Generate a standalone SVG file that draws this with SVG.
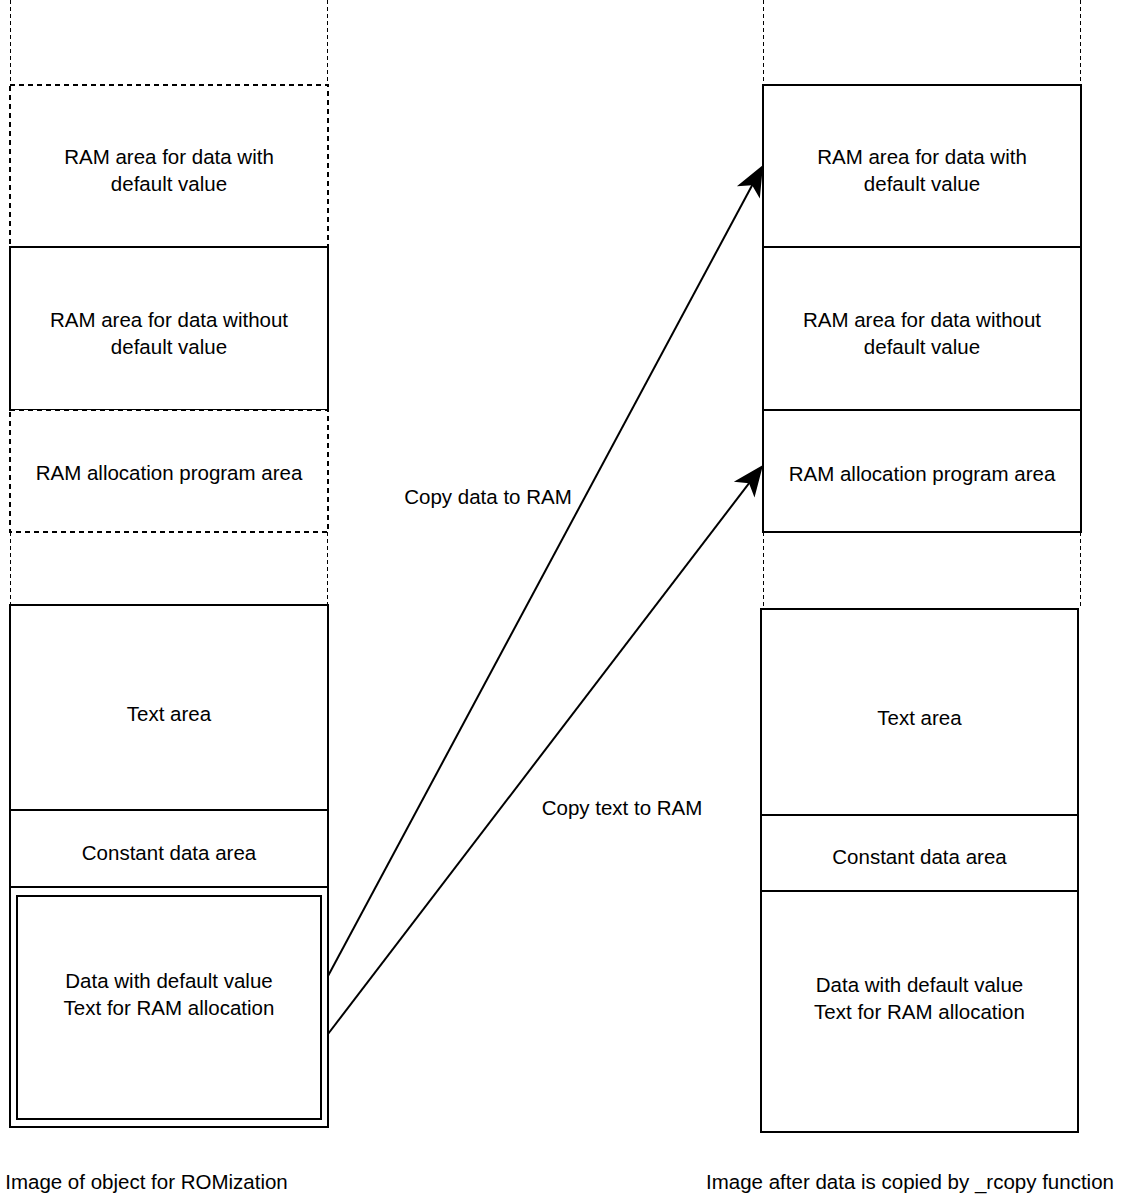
<svg xmlns="http://www.w3.org/2000/svg" width="1123" height="1199" viewBox="0 0 1123 1199">
<style>
.guide{stroke:#000;stroke-width:1;stroke-dasharray:4 3;fill:none}
.dbox{stroke:#000;stroke-width:2;stroke-dasharray:5 4;fill:#fff}
.box{stroke:#000;stroke-width:2;fill:#fff}
.t{font-family:"Liberation Sans",Arial,Helvetica,sans-serif;font-size:20.5px;fill:#000;text-anchor:middle}
.l{font-family:"Liberation Sans",Arial,Helvetica,sans-serif;font-size:20.5px;fill:#000;text-anchor:middle}
.edge{stroke:#000;stroke-width:2;fill:none}
</style>
<defs>
<marker id="arr" viewBox="-33 -14 35 28" markerWidth="35" markerHeight="28" refX="-15" refY="0" orient="auto" markerUnits="userSpaceOnUse">
<path d="M0,0 L-31,-13 L-23,0 L-31,13 Z" fill="#000"/>
</marker>
</defs>
<rect width="1123" height="1199" fill="#fff"/>
<g id="guides">
<line class="guide" x1="10.5" y1="0" x2="10.5" y2="85"/>
<line class="guide" x1="327.5" y1="0" x2="327.5" y2="85"/>
<line class="guide" x1="10.5" y1="532" x2="10.5" y2="605"/>
<line class="guide" x1="327.5" y1="532" x2="327.5" y2="605"/>
<line class="guide" x1="763.5" y1="0" x2="763.5" y2="85"/>
<line class="guide" x1="1080.5" y1="0" x2="1080.5" y2="85"/>
<line class="guide" x1="763.5" y1="532" x2="763.5" y2="607"/>
<line class="guide" x1="1080.5" y1="532" x2="1080.5" y2="607"/>
</g>
<g id="left-ram-default">
<rect class="dbox" x="10" y="85" width="318" height="162"/>
<text class="t" x="169" y="164">RAM area for data with</text>
<text class="t" x="169" y="191">default value</text>
</g>
<g id="left-ram-nodefault">
<rect class="box" x="10" y="247" width="318" height="163"/>
<text class="t" x="169" y="327">RAM area for data without</text>
<text class="t" x="169" y="354">default value</text>
</g>
<g id="left-ram-alloc">
<rect class="dbox" x="10" y="410" width="318" height="122"/>
<text class="t" x="169" y="480">RAM allocation program area</text>
</g>
<g id="left-text">
<rect class="box" x="10" y="605" width="318" height="205"/>
<text class="t" x="169" y="721">Text area</text>
</g>
<g id="left-const">
<rect class="box" x="10" y="810" width="318" height="77"/>
<text class="t" x="169" y="860">Constant data area</text>
</g>
<g id="left-data">
<rect class="box" x="10" y="887" width="318" height="240"/>
<rect class="box" x="17" y="896" width="304" height="223"/>
<text class="t" x="169" y="988">Data with default value</text>
<text class="t" x="169" y="1015">Text for RAM allocation</text>
</g>
<g id="right-ram-default">
<rect class="box" x="763" y="85" width="318" height="162"/>
<text class="t" x="922" y="164">RAM area for data with</text>
<text class="t" x="922" y="191">default value</text>
</g>
<g id="right-ram-nodefault">
<rect class="box" x="763" y="247" width="318" height="163"/>
<text class="t" x="922" y="327">RAM area for data without</text>
<text class="t" x="922" y="354">default value</text>
</g>
<g id="right-ram-alloc">
<rect class="box" x="763" y="410" width="318" height="122"/>
<text class="t" x="922" y="481">RAM allocation program area</text>
</g>
<g id="right-text">
<rect class="box" x="761" y="609" width="317" height="206"/>
<text class="t" x="919.5" y="725">Text area</text>
</g>
<g id="right-const">
<rect class="box" x="761" y="815" width="317" height="76"/>
<text class="t" x="919.5" y="864">Constant data area</text>
</g>
<g id="right-data">
<rect class="box" x="761" y="891" width="317" height="241"/>
<text class="t" x="919.5" y="992">Data with default value</text>
<text class="t" x="919.5" y="1019">Text for RAM allocation</text>
</g>
<g id="connectors">
<line class="edge" x1="328" y1="976" x2="755.91" y2="178.22" marker-end="url(#arr)"/>
<line class="edge" x1="328" y1="1034" x2="753.89" y2="476.92" marker-end="url(#arr)"/>
<text class="l" x="488" y="504">Copy data to RAM</text>
<text class="l" x="622" y="815">Copy text to RAM</text>
</g>
<g id="captions">
<text class="t" x="146.5" y="1189">Image of object for ROMization</text>
<text class="t" x="910" y="1189">Image after data is copied by _rcopy function</text>
</g>
</svg>
